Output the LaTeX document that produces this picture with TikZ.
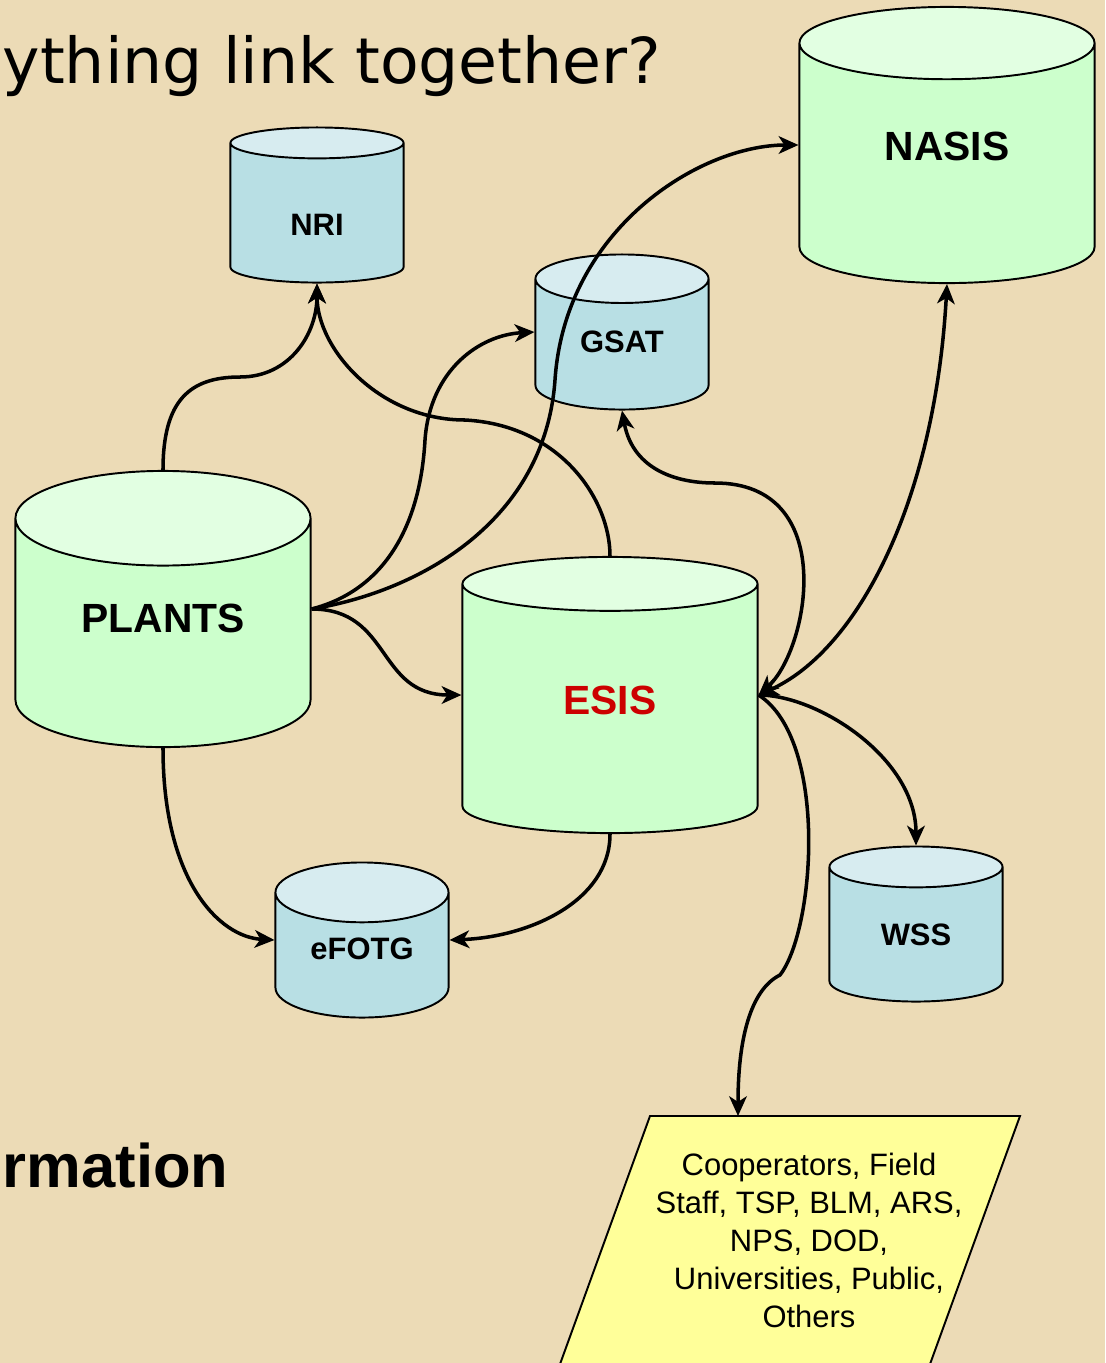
\documentclass[tikz,border=0pt]{standalone}
\usepackage{fontspec}
\setmainfont{Liberation Sans}
\newfontfamily\titlefont{DejaVu Sans}
\usepackage{tikz}
\usetikzlibrary{shapes.geometric}
\usetikzlibrary{arrows.meta}
\definecolor{paper}{RGB}{236,219,182}
\definecolor{dbgreen}{RGB}{204,255,204}
\definecolor{dbgreentop}{RGB}{226,255,226}
\definecolor{dbblue}{RGB}{184,223,228}
\definecolor{dbbluetop}{RGB}{215,236,240}
\definecolor{userfill}{RGB}{255,255,153}
\definecolor{esisred}{RGB}{204,0,0}
\tikzset{>={Stealth[length=5.6pt,width=5pt,inset=1.6pt]}}
\tikzset{
    db/.style = {cylinder, shape border rotate=90, aspect=0.58,
        draw, line width=0.55pt, cylinder uses custom fill,
        inner sep=0pt, anchor=shape center},
    bigdb/.style = {db, minimum width=2.95cm, minimum height=2.76cm,
        cylinder body fill=dbgreen, cylinder end fill=dbgreentop,
        text depth=10pt, font=\fontsize{11.6}{14}\selectfont\bfseries},
    smalldb/.style = {db, minimum width=1.73cm, minimum height=1.55cm,
        cylinder body fill=dbblue, cylinder end fill=dbbluetop,
        font=\fontsize{8.8}{10}\selectfont\bfseries},
    link/.style = {draw, line width=1pt},
    userbox/.style = {fill=userfill, draw, line width=0.55pt}
}

\begin{document}
\begin{tikzpicture}[x=0.01cm, y=-0.01cm]
    \useasboundingbox (0,0) rectangle (1105,1363);
    \fill [paper] (0,0) rectangle (1105,1363);
    \clip (0,0) rectangle (1105,1363);

    \node [anchor=base west, inner sep=0pt, font=\titlefont\fontsize{18}{20}\selectfont] (title) at (2,83) {ything link together?};
    \node [anchor=base west, inner sep=0pt, font=\fontsize{17.5}{21}\selectfont\bfseries] (info) at (2,1187) {rmation};

    % databases
    \node [bigdb] (nasis) at (947,145) {NASIS};
    \node [bigdb, text depth=8.4pt] (plants) at (163,609) {PLANTS};
    \node [bigdb, text depth=5pt, text=esisred] (esis) at (610,695) {ESIS};
    \node [smalldb, text height=12.5pt] (nri) at (317,205) {NRI};
    \node [smalldb, text depth=1.5pt] (gsat) at (622,332) {GSAT};
    \node [smalldb, text depth=4pt] (efotg) at (362,940) {eFOTG};
    \node [smalldb] (wss) at (916,924) {WSS};

    % user groups
    \draw [userbox] (650,1116) -- (1020,1116) -- (917,1400) -- (547,1400) -- cycle;
    \coordinate (userstop) at (738,1116);
    \node [align=center, font=\fontsize{8.8}{10.8}\selectfont] (users) at (809,1240)
        {Cooperators, Field\\Staff, TSP, BLM, ARS,\\NPS, DOD,\\Universities, Public,\\Others};

    \draw [link, ->] (plants.north) .. controls +(0,-70) and +(-50,0) .. (240,377)
        .. controls +(50,0) and +(0,50) .. (nri.south);
    \draw [link, ->] (esis.north) .. controls +(0,-57) and +(95,5) .. (465,420)
        .. controls +(-85,0) and +(0,66) .. (nri.south);
    \draw [link, ->] (plants.east |- plants.shape center) .. controls +(70,-18) and +(-5,90) .. (425,440)
        .. controls +(5,-70) and +(-55,3) .. (gsat.west |- gsat.shape center);
    \draw [link, ->] (plants.east |- plants.shape center) .. controls +(110,-18) and +(-10,140) .. (555,380)
        .. controls +(10,-150) and +(-100,0) .. (nasis.west |- nasis.shape center);
    \draw [link, ->] (plants.east |- plants.shape center) .. controls +(80,0) and +(-85,0) .. (esis.west |- esis.shape center);
    \draw [link, ->] (plants.south) .. controls +(0,133) and +(-55,-3) .. (efotg.west |- efotg.shape center);
    \draw [link, ->] (esis.south) .. controls +(0,67) and +(80,-3) .. (efotg.east |- efotg.shape center);
    \draw [link, <->] (gsat.south) .. controls +(10,55) and +(-45,0) .. (715,483)
        .. controls +(125,0) and +(50,-45) .. (esis.east |- esis.shape center);
    \draw [link, <->] (nasis.south) .. controls +(-12,216) and +(100,-45) .. (esis.east |- esis.shape center);
    \draw [link, ->] (esis.east |- esis.shape center) .. controls +(60,0) and +(0,-87) .. (wss.north);
    \draw [link, ->] (esis.east |- esis.shape center) .. controls +(70,45) and +(35,-45) .. (780,975)
        .. controls +(-30,15) and +(0,-76) .. (userstop);
\end{tikzpicture}
\end{document}
